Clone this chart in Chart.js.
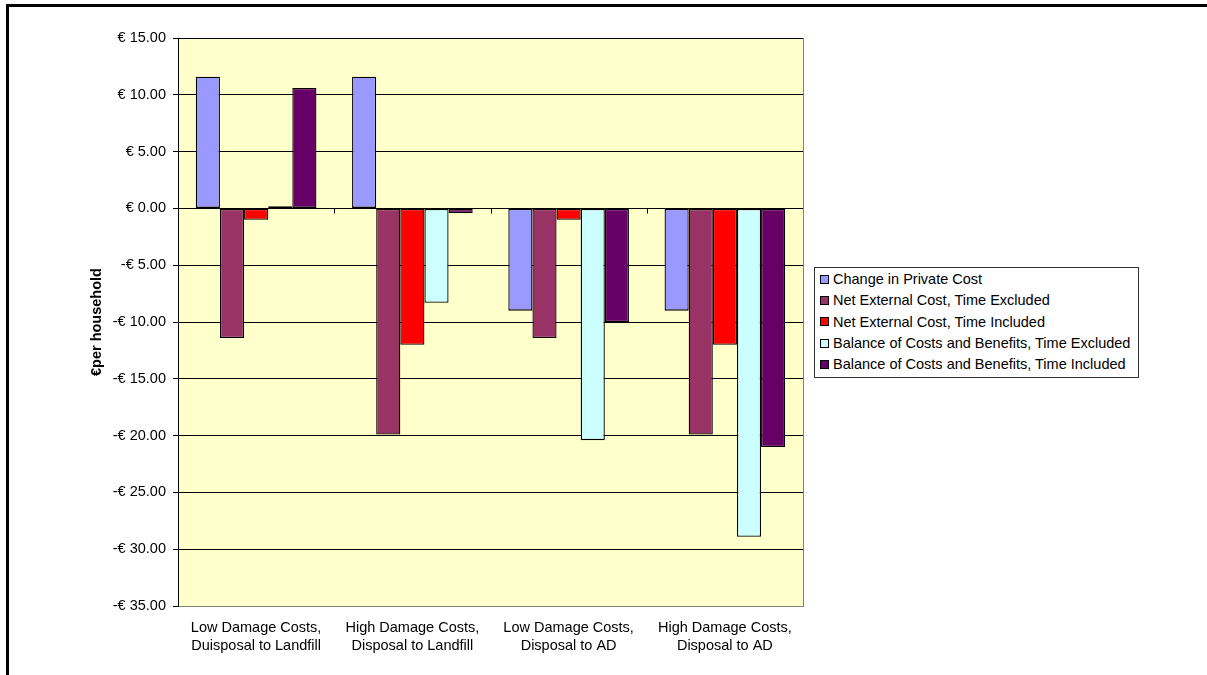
<!DOCTYPE html>
<html lang="en">
<head>
<meta charset="UTF-8">
<title>Costs per household</title>
<script src="https://cdn.jsdelivr.net/npm/chart.js"></script>
<style>
  html, body { margin: 0; padding: 0; background: #fff; overflow: hidden; }
  body { width: 1207px; height: 675px; position: relative; font-family: "Liberation Sans", Arial, sans-serif; }
  .frame { position: absolute; left: 6px; top: 4px; width: 1300px; height: 800px; border-left: 3px solid #000; border-top: 3px solid #000; }
  #wrap { position: absolute; left: 0; top: 0; width: 1207px; height: 675px; }
  .legend { position: absolute; left: 814px; top: 267px; border: 1px solid #333; background: #fff; padding: 1px 8px 2px 5px; font-size: 14.5px; color: #000; }
  .legend div { height: 21.3px; line-height: 21.3px; white-space: nowrap; }
  .legend span { display: inline-block; width: 7px; height: 7px; border: 1px solid #000; margin-right: 4px; vertical-align: middle; position: relative; top: -1px; }
</style>
</head>
<body>
  <div class="frame"></div>
  <div id="wrap"><canvas id="grafico"></canvas></div>
  <div class="legend" id="leyenda"></div>

  <script>
    // categories (two-line labels) and series
    const categories = [
      ["Low Damage Costs,", "Duisposal to Landfill"],
      ["High Damage Costs,", "Disposal to Landfill"],
      ["Low Damage Costs,", "Disposal to AD"],
      ["High Damage Costs,", "Disposal to AD"]
    ];
    const seriesNames = [
      "Change in Private Cost",
      "Net External Cost, Time Excluded",
      "Net External Cost, Time Included",
      "Balance of Costs and Benefits, Time Excluded",
      "Balance of Costs and Benefits, Time Included"
    ];
    const privateCost = [11.6, 11.6, -9.0, -9.0];
    const netExtExcl = [-11.4, -19.9, -11.4, -19.9];
    const netExtIncl = [-1.0, -12.0, -1.0, -12.0];
    const balanceExcl = [0.2, -8.3, -20.4, -28.9];
    const balanceIncl = [10.6, -0.4, -10.0, -21.0];
    const yMin = -35, yMax = 15, yStep = 5;

    const colores = ["#9999FF", "#993366", "#FF0000", "#CCFFFF", "#660066"];
    const series = [privateCost, netExtExcl, netExtIncl, balanceExcl, balanceIncl];
    const fuente = "'Liberation Sans', Arial, sans-serif";

    // legend as html
    const leyenda = document.getElementById("leyenda");
    seriesNames.forEach((n, i) => {
      const d = document.createElement("div");
      d.innerHTML = `<span style="background:${colores[i]}"></span>${n}`;
      leyenda.appendChild(d);
    });

    const fondo = {
      id: "fondo",
      beforeDraw(chart) {
        const { ctx, chartArea: a } = chart;
        ctx.save();
        ctx.fillStyle = "#FFFFCC";
        ctx.fillRect(a.left, a.top, a.right - a.left, a.bottom - a.top);
        ctx.restore();
      },
      afterDatasetsDraw(chart) {
        const { ctx, chartArea: a } = chart;
        const xs = chart.scales.x, ys = chart.scales.y;
        const y0 = Math.round(ys.getPixelForValue(0)) + 0.5;
        ctx.save();
        // zero line and small category ticks
        ctx.strokeStyle = "#000";
        ctx.lineWidth = 1;
        ctx.beginPath();
        ctx.moveTo(a.left, y0);
        ctx.lineTo(a.right, y0);
        for (let i = 1; i < categories.length; i++) {
          const x = Math.round((xs.getPixelForTick(i - 1) + xs.getPixelForTick(i)) / 2) + 0.5;
          ctx.moveTo(x, y0);
          ctx.lineTo(x, y0 + 5);
        }
        ctx.stroke();
        // right edge of plot
        ctx.strokeStyle = "#808080";
        ctx.beginPath();
        ctx.moveTo(Math.round(a.right) + 0.5, a.top);
        ctx.lineTo(Math.round(a.right) + 0.5, a.bottom);
        ctx.stroke();
        ctx.restore();
      }
    };

    new Chart(document.getElementById("grafico"), {
      type: "bar",
      data: {
        labels: categories,
        datasets: series.map((d, i) => ({
          label: seriesNames[i],
          data: d,
          backgroundColor: colores[i],
          borderColor: "#000",
          borderWidth: 1.3,
          borderSkipped: false,
          categoryPercentage: 0.772,
          barPercentage: 1
        }))
      },
      options: {
        responsive: true,
        maintainAspectRatio: false,
        animation: false,
        layout: { padding: { left: 88, right: 404, top: 38, bottom: 7 } },
        plugins: { legend: { display: false }, tooltip: { enabled: false } },
        scales: {
          x: {
            grid: { display: false, drawTicks: false },
            border: { display: true, color: "#808080", width: 1 },
            ticks: {
              color: "#000",
              padding: 13,
              maxRotation: 0,
              autoSkip: false,
              font: { family: fuente, size: 14.5, lineHeight: 1.24 }
            }
          },
          y: {
            min: yMin,
            max: yMax,
            afterFit(scale) { scale.width = 90; },
            grid: { color: "#000", lineWidth: 1, tickLength: 5, tickColor: "#000" },
            border: { display: true, color: "#000", width: 1 },
            title: {
              display: true,
              text: "€per household",
              color: "#000",
              padding: 0,
              font: { family: fuente, size: 14.5, weight: "bold" }
            },
            ticks: {
              stepSize: yStep,
              color: "#000",
              padding: 7,
              font: { family: fuente, size: 14.5 },
              callback: v => (v < 0 ? "-" : "") + "€ " + Math.abs(v).toFixed(2)
            }
          }
        }
      },
      plugins: [fondo]
    });
  </script>
</body>
</html>
